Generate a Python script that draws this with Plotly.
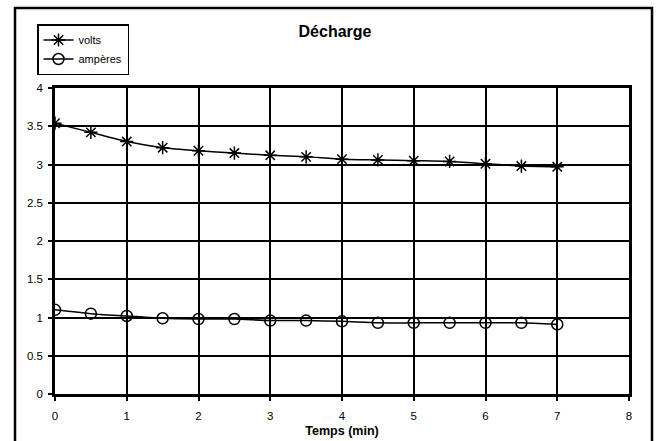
import plotly.graph_objects as go

temps = [0, 0.5, 1, 1.5, 2, 2.5, 3, 3.5, 4, 4.5, 5, 5.5, 6, 6.5, 7]
volts = [3.54, 3.42, 3.30, 3.22, 3.18, 3.15, 3.12, 3.10, 3.07, 3.06, 3.05, 3.04, 3.01, 2.98, 2.97]
amperes = [1.10, 1.05, 1.02, 0.99, 0.98, 0.98, 0.96, 0.96, 0.95, 0.93, 0.93, 0.93, 0.93, 0.93, 0.91]

x_ticks = [0, 1, 2, 3, 4, 5, 6, 7, 8]
y_ticks = [0, 0.5, 1, 1.5, 2, 2.5, 3, 3.5, 4]
y_labels = ["0", "0.5", "1", "1.5", "2", "2.5", "3", "3.5", "4"]

W, H = 657, 441
L, R, T, B = 55, 28, 88, 47
pw, ph = W - L - R, H - T - B

def px(x):
    return (x - L) / pw

def py(y):
    return (H - B - y) / ph

fig = go.Figure()
fig.add_trace(go.Scatter(
    x=temps, y=volts, name="volts", mode="lines+markers",
    line=dict(color="black", width=1.5, shape="spline", smoothing=0.6),
    marker=dict(symbol="asterisk-open", size=11, color="black", line=dict(color="black", width=1.5)),
))
fig.add_trace(go.Scatter(
    x=temps, y=amperes, name="ampères", mode="lines+markers",
    line=dict(color="black", width=1.5, shape="spline", smoothing=0.6),
    marker=dict(symbol="circle-open", size=11, color="black", line=dict(color="black", width=1.5)),
))

fig.update_layout(
    width=W, height=H,
    margin=dict(l=L, r=R, t=T, b=B, autoexpand=False),
    paper_bgcolor="white", plot_bgcolor="white",
    font=dict(family="Liberation Sans, Arial, sans-serif", size=11, color="black"),
    title=dict(text="<b>Décharge</b>", xref="paper", x=px(335), xanchor="center",
               yref="container", y=(H - 31) / H, yanchor="middle",
               font=dict(size=16, color="black")),
    showlegend=True,
    legend=dict(x=px(37), y=py(24), xanchor="left", yanchor="top",
                bordercolor="black", borderwidth=1.5, bgcolor="white",
                font=dict(size=11), tracegroupgap=0, itemwidth=30),
    xaxis=dict(range=[0, 8], tickvals=x_ticks, ticks="outside", ticklen=4, tickwidth=1.5, tickcolor="black",
               showgrid=True, gridcolor="black", gridwidth=1.5, zeroline=False,
               showline=True, linecolor="black", linewidth=2.5, mirror=True,
               ticklabelstandoff=5, automargin=False,
               title=dict(text="<b>Temps (min)</b>", font=dict(size=12.5), standoff=6),
               tickfont=dict(size=11.5)),
    yaxis=dict(range=[0, 4], tickvals=y_ticks, ticktext=y_labels, ticks="outside", ticklen=4, tickwidth=1.5,
               tickcolor="black", showgrid=True, gridcolor="black", gridwidth=1.5, zeroline=False,
               showline=True, linecolor="black", linewidth=2.5, mirror=True, ticklabelstandoff=3,
               automargin=False, tickfont=dict(size=11.5)),
)

fig.add_shape(type="rect", xref="paper", yref="paper",
              x0=px(15), x1=px(652), y0=py(446), y1=py(8),
              line=dict(color="black", width=2.5), fillcolor="rgba(0,0,0,0)", layer="above")

fig.write_html("out.html")
